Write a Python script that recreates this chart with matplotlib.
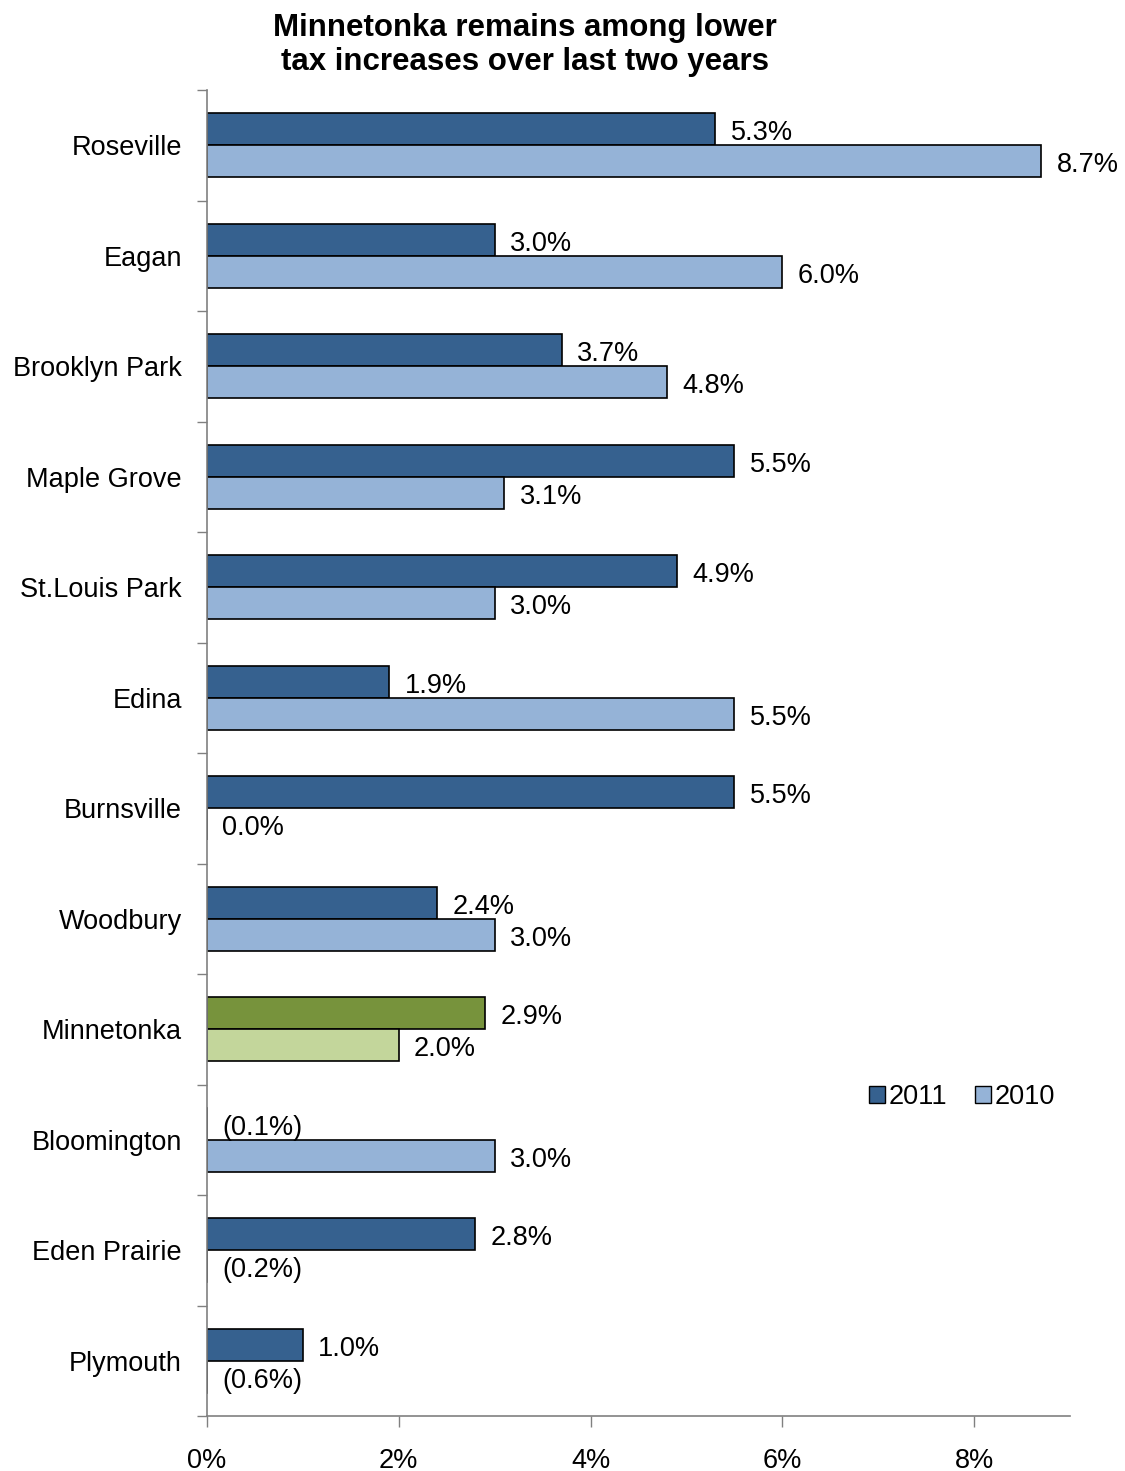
import matplotlib
matplotlib.use("Agg")
import matplotlib.pyplot as plt
import numpy as np
from matplotlib.patches import Patch
from matplotlib.ticker import FuncFormatter, FixedLocator

cities = ["Roseville", "Eagan", "Brooklyn Park", "Maple Grove", "St.Louis Park",
          "Edina", "Burnsville", "Woodbury", "Minnetonka", "Bloomington",
          "Eden Prairie", "Plymouth"]
v2011 = [5.3, 3.0, 3.7, 5.5, 4.9, 1.9, 5.5, 2.4, 2.9, -0.1, 2.8, 1.0]
v2010 = [8.7, 6.0, 4.8, 3.1, 3.0, 5.5, 0.0, 3.0, 2.0, 3.0, -0.2, -0.6]
xticks = [0, 2, 4, 6, 8]
highlight = "Minnetonka"

c11, c10 = "#36618F", "#95B3D7"
h11, h10 = "#77933C", "#C3D69B"

plt.rcParams['font.family'] = ['Liberation Sans', 'DejaVu Sans']
FS = 19.5

fig = plt.figure(figsize=(11.25, 14.71), dpi=100)
ax = fig.add_axes([207/1125, 1 - 1416/1471, (1070-207)/1125, (1416-90)/1471])

n = len(cities)
pos = np.arange(n)
h = 0.29
for i, c in enumerate(cities):
    a = c11 if c != highlight else h11
    b = c10 if c != highlight else h10
    ax.barh(i - h/2, v2011[i], height=h, color=a, edgecolor="black", linewidth=1.2)
    ax.barh(i + h/2, v2010[i], height=h, color=b, edgecolor="black", linewidth=1.2)

def fmt(v):
    return f"({abs(v):.1f}%)" if v < 0 else f"{v:.1f}%"

for i in range(n):
    for v, y in ((v2011[i], i - h/2), (v2010[i], i + h/2)):
        ax.text(max(v, 0) + 0.16, y + 0.035, fmt(v), va="center", ha="left", fontsize=FS)

ax.set_xlim(0, 9)
ax.set_ylim(n - 0.5, -0.5)
ax.set_xticks(xticks)
ax.xaxis.set_major_formatter(FuncFormatter(lambda x, p: f"{x:.0f}%"))
ax.tick_params(axis="x", direction="out", length=8, width=1, color="#808080",
               labelsize=FS, pad=15)

ax.yaxis.set_major_locator(FixedLocator(np.arange(-0.5, n, 1.0)))
ax.set_yticklabels([], minor=False)
ax.set_yticks(pos, minor=True)
ax.set_yticklabels(cities, minor=True)
ax.tick_params(axis="y", which="major", direction="out", length=7, width=1, color="#808080")
ax.tick_params(axis="y", which="minor", length=0, labelsize=FS, pad=18)

for s in ("top", "right"):
    ax.spines[s].set_visible(False)
for s in ("left", "bottom"):
    ax.spines[s].set_color("#808080")
    ax.spines[s].set_linewidth(1.2)

handles = [Patch(facecolor=c11, edgecolor="black", label="2011"),
           Patch(facecolor=c10, edgecolor="black", label="2010")]
fig.legend(handles=handles, loc="center", bbox_to_anchor=(962/1125, 1 - 1097/1471),
           ncol=2, frameon=False, fontsize=FS, handlelength=0.6, handleheight=0.6,
           handletextpad=0.15, columnspacing=1.0, borderpad=0)

fig.text(525/1125, 1 - 45/1471, "Minnetonka remains among lower\ntax increases over last two years",
         ha="center", va="center", fontsize=22.5, fontweight="bold", linespacing=1.2)

fig.savefig("out.png", dpi=100)
